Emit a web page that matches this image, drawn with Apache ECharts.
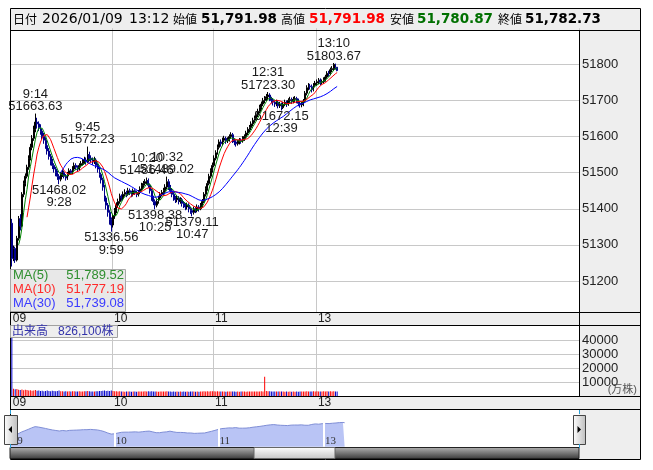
<!DOCTYPE html>
<html><head><meta charset="utf-8">
<script src="https://cdn.jsdelivr.net/npm/echarts@6/dist/echarts.min.js"></script>
<style>html,body{margin:0;padding:0;background:#fff}#c{width:653px;height:470px}</style>
</head><body><div id="c"></div><script>
// ---- time axis sessions (Tokyo 1-minute bars) ----
const sessions = [['9:00','11:30'],['12:30','15:35']];
const miniSessions = [['9:00','11:30'],['12:30','15:27']];

// ---- 1-minute candles: [open, close, low, high] from 9:00 to 13:12 ----
const candles = [
[51360,51262,51240,51372],[51262,51290,51255,51298],[51290,51258,51250,51295],[51258,51318,51254,51325],[51318,51372,51312,51380],
[51372,51352,51340,51385],[51352,51440,51348,51446],[51440,51470,51432,51478],[51470,51490,51462,51498],[51490,51515,51484,51522],
[51515,51540,51508,51548],[51540,51570,51534,51580],[51570,51595,51562,51604],[51595,51620,51588,51630],[51620,51640,51612,51663.63],
[51640,51635,51622,51652],[51635,51625,51615,51642],[51625,51615,51605,51634],[51615,51600,51592,51622],[51600,51590,51580,51610],
[51590,51575,51566,51598],[51575,51560,51550,51584],[51560,51545,51536,51568],[51545,51530,51520,51552],[51530,51520,51510,51538],
[51520,51510,51500,51526],[51510,51500,51490,51516],[51500,51490,51480,51506],[51490,51482,51468.02,51496],[51482,51495,51476,51502],
[51495,51500,51488,51508],[51500,51490,51484,51506],[51490,51485,51478,51496],[51485,51495,51480,51502],[51495,51505,51490,51512],
[51505,51500,51494,51510],[51500,51510,51496,51518],[51510,51520,51505,51528],[51520,51515,51508,51526],[51515,51510,51502,51520],
[51510,51520,51506,51526],[51520,51525,51514,51532],[51525,51530,51520,51538],[51530,51535,51524,51544],[51535,51530,51522,51542],
[51530,51550,51526,51572.23],[51550,51540,51532,51558],[51540,51535,51528,51548],[51535,51530,51522,51542],[51530,51535,51524,51544],
[51535,51520,51512,51540],[51520,51510,51500,51526],[51510,51495,51486,51516],[51495,51480,51470,51500],[51480,51460,51450,51486],
[51460,51430,51420,51466],[51430,51410,51398,51436],[51410,51390,51378,51416],[51390,51370,51356,51396],[51370,51355,51336.56,51376],
[51355,51380,51348,51386],[51380,51395,51372,51402],[51395,51410,51388,51418],[51410,51420,51402,51428],[51420,51435,51414,51442],
[51435,51430,51422,51440],[51430,51440,51424,51448],[51440,51445,51434,51454],[51445,51440,51432,51450],[51440,51450,51436,51458],
[51450,51445,51438,51456],[51445,51440,51432,51450],[51440,51450,51434,51456],[51450,51445,51438,51454],[51445,51440,51432,51450],
[51440,51445,51434,51452],[51445,51455,51440,51462],[51455,51465,51450,51472],[51465,51470,51458,51477],[51470,51475,51464,51482],
[51475,51478,51468,51486.46],[51478,51465,51458,51484],[51465,51450,51442,51470],[51450,51430,51422,51455],[51430,51420,51410,51436],
[51420,51410,51398.38,51426],[51410,51420,51404,51426],[51420,51430,51414,51436],[51430,51440,51424,51446],[51440,51445,51434,51452],
[51445,51450,51438,51458],[51450,51460,51444,51468],[51460,51475,51454,51489.02],[51475,51460,51452,51482],[51460,51450,51442,51466],
[51450,51440,51432,51456],[51440,51430,51422,51446],[51430,51425,51416,51436],[51425,51430,51418,51437],[51430,51420,51412,51435],
[51420,51425,51414,51432],[51425,51415,51406,51430],[51415,51410,51402,51421],[51410,51405,51396,51416],[51405,51410,51398,51417],
[51410,51400,51390,51415],[51400,51395,51386,51406],[51395,51390,51379.11,51401],[51390,51400,51384,51406],[51400,51395,51388,51405],
[51395,51405,51390,51412],[51405,51400,51392,51410],[51400,51410,51396,51416],[51410,51420,51405,51427],[51420,51440,51416,51446],
[51440,51455,51434,51462],[51455,51470,51450,51478],[51470,51490,51465,51497],[51490,51505,51484,51512],[51505,51520,51500,51528],
[51520,51540,51515,51548],[51540,51555,51534,51562],[51555,51570,51550,51578],[51570,51585,51564,51592],[51585,51580,51572,51592],
[51580,51590,51575,51597],[51590,51595,51584,51602],[51595,51588,51580,51600],[51588,51592,51582,51598],[51592,51600,51586,51606],
[51600,51605,51594,51612],[51605,51590,51582,51610],[51590,51585,51576,51595],[51585,51580,51572,51590],[51580,51585,51575,51591],
[51585,51590,51578,51596],[51590,51588,51580,51595],[51588,51595,51583,51601],[51595,51600,51588,51606],[51600,51610,51594,51616],
[51610,51620,51604,51626],[51620,51625,51612,51632],[51625,51635,51618,51642],[51635,51645,51628,51652],[51645,51650,51638,51658],
[51650,51660,51644,51667],[51660,51670,51654,51677],[51670,51680,51664,51688],[51680,51690,51674,51697],[51690,51700,51684,51707],
[51700,51705,51692,51712],[51705,51710,51698,51718],[51710,51715,51702,51723.30],[51715,51705,51698,51720],[51705,51700,51692,51710],
[51700,51695,51686,51706],[51695,51690,51682,51700],[51690,51695,51684,51702],[51695,51685,51678,51700],[51685,51690,51679,51696],
[51690,51680,51672.15,51694],[51680,51690,51676,51696],[51690,51695,51684,51702],[51695,51690,51682,51700],[51690,51700,51685,51706],
[51700,51702,51692,51710],[51702,51698,51690,51708],[51698,51703,51692,51710],[51703,51705,51696,51712],[51705,51700,51692,51710],
[51700,51692,51684,51705],[51692,51688,51680,51698],[51688,51690,51681,51696],[51690,51698,51684,51704],[51698,51720,51694,51726],
[51720,51735,51714,51742],[51735,51740,51728,51748],[51740,51738,51730,51746],[51738,51730,51722,51744],[51730,51742,51725,51748],
[51742,51748,51736,51754],[51748,51752,51740,51758],[51752,51756,51745,51762],[51756,51750,51742,51761],[51750,51752,51744,51758],
[51752,51758,51746,51764],[51758,51765,51752,51771],[51765,51775,51760,51781],[51775,51774,51766,51782],[51774,51785,51770,51791],
[51785,51788,51778,51795],[51788,51800,51782,51803.67],[51800,51792,51786,51802],[51791.98,51782.73,51780.87,51791.98]
];

// ---- volume per minute (万株) ----
const volumes = [
58000,5200,4800,5000,4600,4400,4700,4200,4500,4300,
4000,4100,3800,4000,4300,3800,3900,3600,3800,3500,
3700,3900,3600,3500,3800,3600,3400,3700,3900,3500,
3400,3300,3500,3200,3400,3300,3500,3400,3200,3300,
3400,3200,3300,3500,3400,3600,3400,3300,3200,3300,
3400,3500,3600,3700,3800,3900,3700,3800,3600,4000,
3700,3500,3400,3300,3400,3200,3300,3100,3200,3300,
3200,3100,3300,3200,3100,3200,3300,3200,3300,3400,
3300,3400,3300,3400,3200,3300,3200,3100,3200,3300,
3200,3300,3400,3300,3200,3100,3200,3100,3200,3100,
3200,3100,3200,3100,3200,3100,3200,3300,3200,3100,
3200,3100,3200,3300,3400,3300,3400,3300,3400,3500,
3400,3300,3400,3300,3200,3300,3200,3100,3200,3300,
3200,3300,3200,3100,3200,3100,3200,3300,3200,3100,
3200,3300,3200,3300,3200,3300,3200,3300,3400,3300,
13900,3600,3500,3400,3300,3200,3300,3200,3300,3200,
3300,3200,3100,3200,3100,3200,3100,3200,3100,3200,
3100,3200,3300,3200,3300,3400,3300,3200,3300,3400,
3300,3400,3300,3200,3300,3400,3300,3400,3300,3400,
3300,3400,3200,3300
];

// ---- annotated extremes ----
const highMarks = [['9:14',51663.63],['9:45',51572.23],['10:20',51486.46],['10:32',51489.02],['12:31',51723.30],['13:10',51803.67]];
const lowMarks  = [['9:28',51468.02],['9:59',51336.56],['10:25',51398.38],['10:47',51379.11],['12:39',51672.15]];

// ---- header / legend texts ----
const headerItems = [
  ['日付',13,'j','#000'],['2026/01/09',42,'n','#000'],['13:12',129,'n','#000'],
  ['始値',173,'j','#000'],['51,791.98',201,'b','#000'],
  ['高値',281,'j','#000'],['51,791.98',309,'b','#ff0000'],
  ['安値',390,'j','#000'],['51,780.87',417,'b','#007000'],
  ['終値',498,'j','#000'],['51,782.73',525,'b','#000']
];
const maLegend = [['MA(5)','51,789.52','#2f8f2f'],['MA(10)','51,777.19','#ff2a2a'],['MA(30)','51,739.08','#3a3aff']];
const volLegend = ['出来高','826,100株'];
const volUnit = '(万株)';

function expand(sess){
  const out=[];
  for(const [a,b] of sess){
    let [h,m]=a.split(':').map(Number); const [eh,em]=b.split(':').map(Number);
    while(h*60+m<=eh*60+em){ out.push(h+':'+String(m).padStart(2,'0')); m++; if(m===60){m=0;h++;} }
  }
  return out;
}
const slots = expand(sessions);
const miniSlots = expand(miniSessions);
const n = candles.length;
const closes = candles.map(c=>c[1]);
function ma(k){ return closes.map((_,i)=> i<k-1 ? '-' : +(closes.slice(i-k+1,i+1).reduce((a,b)=>a+b,0)/k).toFixed(2)); }
const isHour = (i)=> i<n && slots[i].endsWith(':00');
const isHourM = (i)=> i<n && miniSlots[i].endsWith(':00');
const fmtHour = (v)=> v.split(':')[0].padStart(2,'0');

const FONT = '"Liberation Sans","Noto Sans CJK JP",sans-serif';
const GRID = '#c8c8c8';
const T = 'rgba(0,0,0,0)';

const chart = echarts.init(document.getElementById('c'), null, {renderer:'canvas'});

const g = [];
function rect(x,y,w,h,fill,z,stroke){ g.push({type:'rect',z:z,silent:true,shape:{x:x,y:y,width:w,height:h},style:{fill:fill,stroke:stroke||null,lineWidth:1}}); }
function line(x1,y1,x2,y2,color,z){ g.push({type:'line',z:z,silent:true,shape:{x1:x1,y1:y1,x2:x2,y2:y2},style:{stroke:color,lineWidth:1}}); }
function text(t,x,y,font,color,z,align){ g.push({type:'text',z:z,silent:true,x:x,y:y,style:{text:t,font:font,fill:color,textAlign:align||'left',textVerticalAlign:'middle'}}); }
const BG = '#eeeeee';
// backgrounds
rect(10,8,630,22,BG,-10);
rect(579,30,61,282,BG,-10);
rect(579,325,61,71,BG,-10);
rect(10,396,630,13,BG,-10);
rect(579,409,61,50,BG,-10);
// strip overlay between main and volume
rect(10,312,630,13,BG,100);
// borders
g.push({type:'rect',z:105,silent:true,shape:{x:10.5,y:8.5,width:630,height:451},style:{fill:null,stroke:'#000',lineWidth:1}});
line(10,30.5,640,30.5,'#000',105);
line(10,312.5,640,312.5,'#000',105);
line(10,325.5,640,325.5,'#000',105);
line(10,396.5,640,396.5,'#000',105);
line(10,409.5,640,409.5,'#000',105);
line(579.5,30,579.5,325,'#000',105);
line(579.5,325,579.5,396,'#000',105);
// header texts
const HF = {
  j:'12px "Noto Sans CJK JP",sans-serif',
  n:'14px "DejaVu Sans","Noto Sans CJK JP",sans-serif',
  b:'bold 13.5px "DejaVu Sans","Noto Sans CJK JP",sans-serif'
};
headerItems.forEach(h=>text(h[0],h[1],19.5,HF[h[2]],h[3],106));
// MA legend box
rect(10.5,269.5,115,42,'#e8e8e8',106,'#a8a8a8');
maLegend.forEach((m,i)=>{
  text(m[0],13,275.5+i*14,'13px '+FONT,m[2],107);
  text(m[1],124,275.5+i*14,'13px '+FONT,m[2],107,'right');
});
// volume legend box
rect(10.5,325.5,107,12,'#eeeeee',106,'#a0a0a0');
text(volLegend[0],12,331.5,'12px '+FONT,'#3333aa',107);
text(volLegend[1],58,331.5,'12px '+FONT,'#3333aa',107);
text(volUnit,637,390,'11px '+FONT,'#555',107,'right');
// slider decorations
rect(10,447.5,569,11,{type:'linear',x:0,y:0,x2:0,y2:1,colorStops:[{offset:0,color:'#b4b4b4'},{offset:1,color:'#3a3a3a'}]},106,'#222');
rect(254,447.5,81,11,{type:'linear',x:0,y:0,x2:0,y2:1,colorStops:[{offset:0,color:'#ffffff'},{offset:1,color:'#c4c4c4'}]},107,'#666');
rect(4.5,415.5,13,29,{type:'linear',x:0,y:0,x2:1,y2:0,colorStops:[{offset:0,color:'#ffffff'},{offset:1,color:'#bdbdbd'}]},108,'#444');
rect(573.5,415.5,12,29,{type:'linear',x:0,y:0,x2:1,y2:0,colorStops:[{offset:0,color:'#ffffff'},{offset:1,color:'#bdbdbd'}]},108,'#444');
g.push({type:'polygon',z:109,silent:true,shape:{points:[[12,426],[12,433],[8.5,429.5]]},style:{fill:'#000'}});
g.push({type:'polygon',z:109,silent:true,shape:{points:[[577.5,426],[577.5,433],[581,429.5]]},style:{fill:'#000'}});
line(10.5,410,10.5,414,'#2aa0d8',109); line(579.5,410,579.5,414,'#2aa0d8',109);
line(10.5,444,10.5,448,'#2aa0d8',109); line(579.5,444,579.5,448,'#2aa0d8',109);

const markData = [];
highMarks.forEach(m=>markData.push({coord:[m[0],m[1]],value:m[1],label:{position:'top',distance:0,formatter:m[0]+'\n'+m[1].toFixed(2)}}));
lowMarks.forEach(m=>markData.push({coord:[m[0],m[1]],value:m[1],label:{position:'bottom',distance:-1,formatter:m[1].toFixed(2)+'\n'+m[0]}}));

const plain = (v)=>String(v);
const catBase = {type:'category',boundaryGap:true,axisLine:{show:false},axisTick:{show:false}};
const option = {
  animation:false,
  backgroundColor:'#ffffff',
  textStyle:{fontFamily:FONT},
  graphic:{elements:g},
  grid:[
    {left:11,top:28.2,width:568,height:288.9,show:false},
    {left:11,top:326.75,width:568,height:69.25,show:false},
    {left:10,top:411,width:569,height:35.7,show:false}
  ],
  xAxis:[
    Object.assign({},catBase,{gridIndex:0,data:slots,z:120,splitLine:{show:false},
      axisLabel:{interval:(i)=>isHour(i),formatter:fmtHour,align:'left',margin:-4,fontSize:12,color:'#222',fontFamily:FONT,padding:[0,0,0,1]}}),
    Object.assign({},catBase,{gridIndex:0,position:'top',data:slots,axisLabel:{show:false},
      splitLine:{show:true,interval:(i)=>i>0&&isHour(i),lineStyle:{color:GRID,width:1}}}),
    Object.assign({},catBase,{gridIndex:1,data:slots,
      splitLine:{show:true,interval:(i)=>i>0&&isHour(i),lineStyle:{color:GRID,width:1}},
      axisLabel:{interval:(i)=>isHour(i),formatter:fmtHour,align:'left',margin:1,fontSize:12,color:'#222',fontFamily:FONT,padding:[0,0,0,1]}}),
    Object.assign({},catBase,{gridIndex:2,data:miniSlots,z:10,splitLine:{show:false},
      axisLabel:{inside:true,interval:(i)=>isHourM(i),formatter:fmtHour,align:'left',margin:0,fontSize:11,color:'#333',fontFamily:'"Liberation Serif",serif',padding:[0,0,0,1]}})
  ],
  yAxis:[
    {type:'value',gridIndex:0,position:'right',min:51100,max:51900,interval:100,axisLine:{show:false},axisTick:{show:false},
      splitLine:{show:true,lineStyle:{color:[T,GRID,GRID,GRID,GRID,GRID,GRID,GRID,T],width:1}},
      axisLabel:{showMinLabel:false,showMaxLabel:false,margin:3,fontSize:13,color:'#222',fontFamily:FONT,formatter:plain}},
    {type:'value',gridIndex:1,position:'right',min:0,max:50000,interval:10000,axisLine:{show:false},axisTick:{show:false},
      splitLine:{show:true,lineStyle:{color:[T,GRID,GRID,GRID,GRID,T],width:1}},
      axisLabel:{showMinLabel:false,showMaxLabel:false,margin:3,fontSize:13,color:'#222',fontFamily:FONT,formatter:plain}},
    {type:'value',gridIndex:2,min:50910,max:52210,show:false,splitLine:{show:false}}
  ],
  series:[
    {type:'candlestick',name:'price',xAxisIndex:0,yAxisIndex:0,data:candles,barWidth:1.4,z:3,
      itemStyle:{color:'#000000',color0:'#00008c',borderColor:'#000000',borderColor0:'#00008c',borderWidth:1},
      markPoint:{symbol:'circle',symbolSize:1,silent:true,itemStyle:{color:T},
        label:{show:true,fontSize:13,fontFamily:FONT,color:'#1a1a1a',lineHeight:12.5},data:markData}},
    {type:'line',name:'MA5',xAxisIndex:0,yAxisIndex:0,data:ma(5),showSymbol:false,symbol:'none',z:4,lineStyle:{color:'#008000',width:1}},
    {type:'line',name:'MA10',xAxisIndex:0,yAxisIndex:0,data:ma(10),showSymbol:false,symbol:'none',z:4,lineStyle:{color:'#ff0000',width:1}},
    {type:'line',name:'MA30',xAxisIndex:0,yAxisIndex:0,data:ma(30),showSymbol:false,symbol:'none',z:4,lineStyle:{color:'#0000ff',width:1}},
    {type:'bar',name:'volume',xAxisIndex:2,yAxisIndex:1,barWidth:1,clip:true,
      data:volumes.map((v,i)=>({value:v,itemStyle:{color:candles[i][1]>=candles[i][0]?'#ff0000':'#0000cc'}}))},
    {type:'line',name:'overview',xAxisIndex:3,yAxisIndex:2,data:closes,symbol:'none',showSymbol:false,
      lineStyle:{color:'#7f8ed6',width:1},areaStyle:{color:'#b9c4f5',opacity:1},
      markLine:{silent:true,symbol:'none',label:{show:false},lineStyle:{color:'#ffffff',width:2,type:'solid'},
        data:[{xAxis:'10:00'},{xAxis:'11:00'},{xAxis:'13:00'}]}}
  ]
};
chart.setOption(option);
</script></body></html>
